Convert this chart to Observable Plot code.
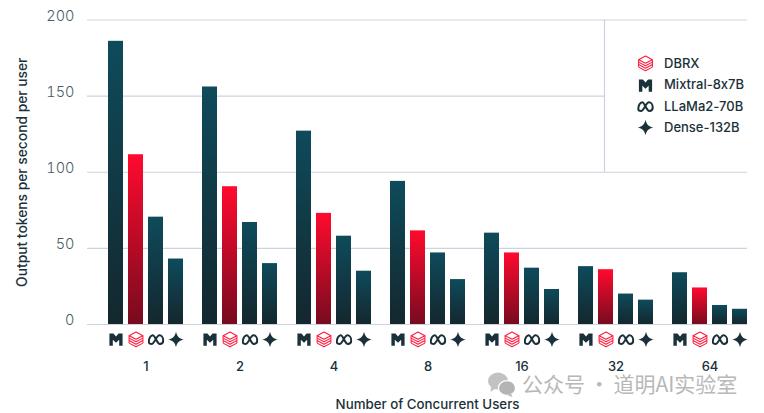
<!DOCTYPE html>
<html>
<head>
<meta charset="utf-8">
<script src="https://cdn.jsdelivr.net/npm/d3@7"></script>
<script src="https://cdn.jsdelivr.net/npm/@observablehq/plot@0.6"></script>
<style>
html,body{margin:0;padding:0;background:#fff;width:764px;height:413px;overflow:hidden}
#wrap{position:relative;width:764px;height:413px;font-family:Inter,"DejaVu Sans",sans-serif;font-feature-settings:"calt" 0}
#wrap svg text{font-feature-settings:"calt" 0}
#legend{position:absolute;left:637px;top:53px;color:#1b3139;font-size:13px;font-weight:500;line-height:21.4px}
#legend div{display:flex;align-items:center;height:21.4px;white-space:nowrap}
#legend img{width:17px;height:17px;margin-right:10px}
#mark{position:absolute;left:487px;top:373px;display:flex;align-items:center;color:#b8b8b8;font-family:"Noto Sans CJK SC",sans-serif;font-size:21px;line-height:21px;height:21px;word-spacing:-1px;white-space:nowrap}
#mark svg{margin-right:6px}
</style>
</head>
<body>
<div id="wrap"></div>
<script>
const groups = ["1", "2", "4", "8", "16", "32", "64"];
const models = ["Mixtral-8x7B", "DBRX", "LLaMa2-70B", "Dense-132B"];
const legendOrder = ["DBRX", "Mixtral-8x7B", "LLaMa2-70B", "Dense-132B"];
const mixtral = [186, 156, 127, 94, 60, 38, 34];
const dbrx = [111.5, 90.5, 73, 61.5, 47, 36, 24];
const llama = [70.5, 67, 58, 47, 37, 20, 12.5];
const dense = [43, 40, 35, 29.5, 23, 16, 10];
const series = [mixtral, dbrx, llama, dense];
const yTicks = [0, 50, 100, 150, 200];

// slot layout along the linear x scale: one unit is one bar step
const groupStep = 4.7, barWidth = 0.75;
const xStart = -1.05, xEnd = 31.95, legendEdge = 24.8;

const data = groups.flatMap((g, gi) => models.map((m, mi) => ({
  group: g, model: m, value: series[mi][gi],
  x1: gi * groupStep + mi, x2: gi * groupStep + mi + barWidth
})));
const centers = groups.map((g, gi) => gi * groupStep + (3 + barWidth) / 2);

const ink = "#1b3139", red = "#ff1a3c";
const svgUri = s => "data:image/svg+xml," + encodeURIComponent(`<svg xmlns="http://www.w3.org/2000/svg" viewBox="0 0 16 16">${s}</svg>`);
const icons = {
  "Mixtral-8x7B": svgUri(`<path fill="${ink}" d="M1.8 2.4H5.6L8 5.2 10.4 2.4H14.2V13.8H11V8.2L8 11 5 8.2V13.8H1.8Z"/>`),
  "DBRX": svgUri(`<g fill="none" stroke="${red}" stroke-width="1" stroke-linejoin="round"><path d="M8 1 14.5 4.4 8 7.8 1.5 4.4Z"/><path d="M1.5 6.7 8 10.1 14.5 6.7"/><path d="M1.5 9 8 12.4 14.5 9"/><path d="M1.5 11.4 8 14.8 14.5 11.4"/><path d="M1.5 4.4V11.4M14.5 4.4V11.4"/></g>`),
  "LLaMa2-70B": svgUri(`<path fill="none" stroke="${ink}" stroke-width="1.9" d="M1.2 10.4C1.2 7 3 4 4.9 4 7.3 4 8.7 12.2 11.7 12.2 13.6 12.2 14.8 11 14.8 9 14.8 6.2 13.2 4 11.2 4 8.4 4 6.7 12.2 3.8 12.2 2.2 12.2 1.2 11.5 1.2 10.4Z"/>`),
  "Dense-132B": svgUri(`<path fill="${ink}" d="M8 .6C8.9 4.9 11 7.1 15.4 8 11 8.9 8.9 11.1 8 15.4 7.1 11.1 5 8.9.6 8 5 7.1 7.1 4.9 8 .6Z"/>`)
};

const defs = () => {
  const d = d3.create("svg:defs");
  const grad = (id, top, bottom) => {
    const g = d.append("linearGradient").attr("id", id).attr("x1", 0).attr("x2", 0).attr("y1", 0).attr("y2", 1);
    g.append("stop").attr("offset", "0%").attr("stop-color", top);
    g.append("stop").attr("offset", "100%").attr("stop-color", bottom);
  };
  grad("tealGrad", "#0e4b5b", "#14272e");
  grad("redGrad", "#ff0a2e", "#770b1f");
  return d.node();
};

const chart = Plot.plot({
  width: 764, height: 413,
  marginLeft: 87, marginRight: 17, marginTop: 19.5, marginBottom: 89,
  style: {fontFamily: "Inter, 'DejaVu Sans', sans-serif", background: "transparent"},
  x: {domain: [xStart, xEnd], axis: null},
  y: {domain: [0, 200], axis: null},
  color: {type: "ordinal", domain: models, range: ["url(#tealGrad)", "url(#redGrad)", "url(#tealGrad)", "url(#tealGrad)"]},
  marks: [
    defs,
    Plot.ruleY([0, 50, 100, 200], {x1: xStart, x2: xEnd, stroke: "#cdd3de", strokeWidth: 1.2}),
    Plot.ruleY([150], {x1: xStart, x2: legendEdge, stroke: "#cdd3de", strokeWidth: 1.2}),
    Plot.ruleX([legendEdge], {y1: 100, y2: 200, stroke: "#cdd3de", strokeWidth: 1.2}),
    Plot.rectY(data, {x1: "x1", x2: "x2", y: "value", fill: "model"}),
    Plot.image(data, {
      x: d => (d.x1 + d.x2) / 2, y: () => 0, dy: 15, width: 17, height: 17,
      src: d => icons[d.model]
    }),
    Plot.axisY({
      ticks: yTicks, tickSize: 0, tickPadding: 13, dy: -4,
      fontSize: 14.5, fontWeight: 300, color: "#4a5c63",
      label: null
    }),
    Plot.text(["Output tokens per second per user"], {
      frameAnchor: "left", textAnchor: "middle", dx: -65, rotate: -90,
      fontSize: 13.8, fontWeight: 500, fill: ink
    }),
    Plot.text(groups, {
      x: (d, i) => centers[i], y: () => 0, dy: 42,
      fontSize: 13, fontWeight: 500, fill: ink
    }),
    Plot.text(["Number of Concurrent Users"], {
      x: [15.95], frameAnchor: "bottom", dy: 84,
      fontSize: 13.3, fontWeight: 500, fill: ink
    })
  ]
});

const wrap = document.getElementById("wrap");
wrap.appendChild(chart);

const legend = document.createElement("div");
legend.id = "legend";
legendOrder.forEach(m => {
  const row = document.createElement("div");
  const img = document.createElement("img");
  img.src = icons[m];
  const label = document.createElement("span");
  label.textContent = m;
  row.append(img, label);
  legend.appendChild(row);
});
wrap.appendChild(legend);

const mark = document.createElement("div");
mark.id = "mark";
mark.innerHTML = `<svg width="29" height="26" viewBox="0 0 29 26"><ellipse cx="11" cy="10" rx="10" ry="8.6" fill="#c2c2c2"/><path d="M4 16 3.5 21 9 17Z" fill="#c2c2c2"/><ellipse cx="20" cy="17" rx="8.6" ry="7.4" fill="#b4b4b4" stroke="#fff" stroke-width="1.2"/><path d="M24 23 25.5 26 20 24Z" fill="#b4b4b4"/></svg><span>公众号 · 道明AI实验室</span>`;
wrap.appendChild(mark);
</script>
</body>
</html>
